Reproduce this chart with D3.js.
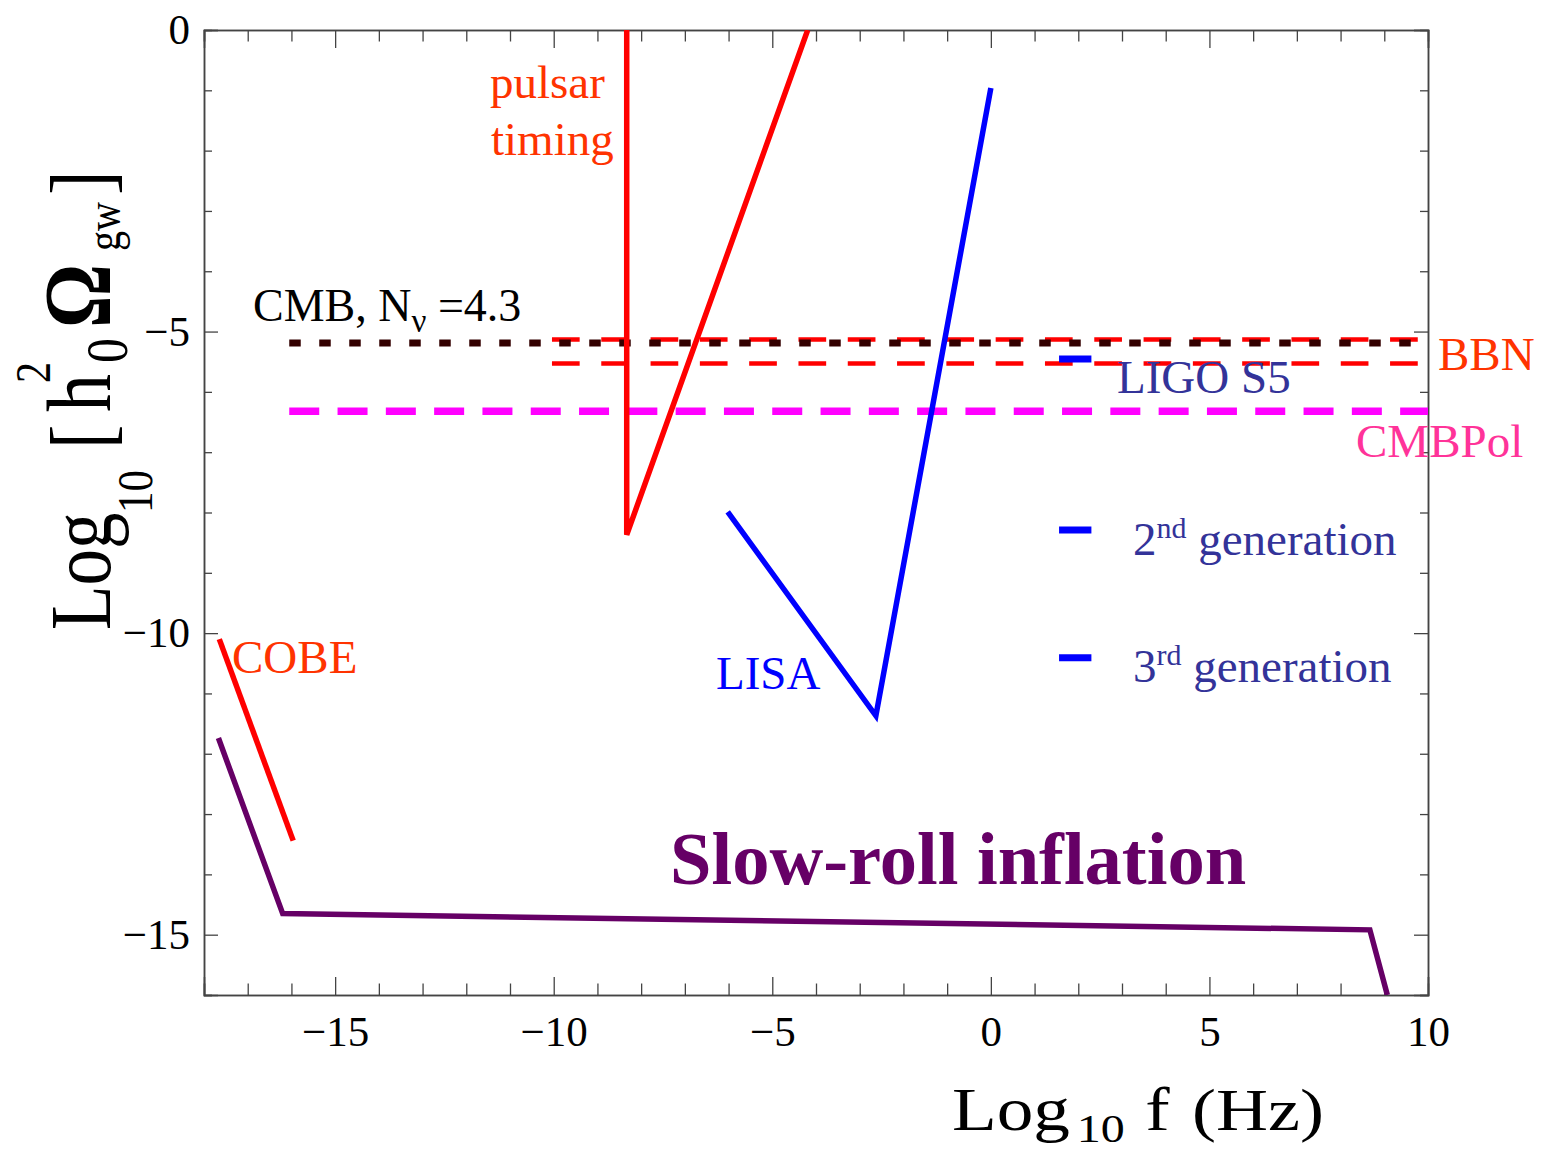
<!DOCTYPE html>
<html><head><meta charset="utf-8">
<script src="https://cdn.jsdelivr.net/npm/d3@7"></script>
<style>body{margin:0;background:#fff}svg{display:block}text{font-family:"Liberation Serif","Times New Roman",serif}</style>
</head><body><svg id="c" width="1547" height="1152"></svg>
<script>
// ---- data (log10 f [Hz], log10 h0^2 Omega_gw) ----
const xDomain = [-18, 10];
const yDomain = [-16, 0];
const xMajorTicks = [-15, -10, -5, 0, 5, 10];
const yMajorTicks = [0, -5, -10, -15];
const pulsarTiming = [[-8.33, 0], [-8.33, -8.37], [-4.19, 0]];
const lisa = [[-6.02, -7.99], [-2.63, -11.37], [0, -0.96]];
const cobe = [[-17.65, -10.1], [-15.96, -13.44]];
const slowRoll = [[-17.67, -11.74], [-16.2, -14.65], [8.67, -14.92], [9.07, -16]];
const cmbNnu = [[-16.05, -5.19], [10, -5.19]];
const bbnUpper = [[-10.04, -5.13], [10, -5.13]];
const bbnLower = [[-10.04, -5.53], [10, -5.53]];
const cmbPol = [[-16.05, -6.32], [10, -6.32]];
const groundX = [1.56, 2.3];
const groundNames = ["LIGO S5", "2nd generation", "3rd generation"];
const groundY = [-5.455, -8.29, -10.41];

const svg = d3.select("#c");
const L = 204, R = 1428, T = 30, B = 995;
const x = d3.scaleLinear().domain(xDomain).range([L, R]);
const y = d3.scaleLinear().domain(yDomain).range([B, T]);

svg.append("defs").append("clipPath").attr("id", "clip")
  .append("rect").attr("x", L).attr("y", T).attr("width", R - L).attr("height", B - T);

// axes
const minorX = d3.range(-18, 11, 1).filter(v => !xMajorTicks.includes(v));
const minorY = d3.range(-16, 1, 1).filter(v => !yMajorTicks.includes(v));
const fmt = d3.format("d");
function styleAxis(g) {
  g.selectAll("path.domain").attr("stroke", "#444").attr("stroke-width", 1.5);
  g.selectAll(".tick line").attr("stroke", "#444").attr("stroke-width", 1.3);
}
const gB = svg.append("g").attr("transform", `translate(0,${B})`)
  .call(d3.axisBottom(x).tickValues(xMajorTicks).tickFormat(fmt).tickSize(-18).tickPadding(0));
gB.selectAll("text").attr("y", 51).attr("dy", 0).attr("font-size", 43)
  .attr("font-family", "Liberation Serif").attr("fill", "#000");
styleAxis(gB);
const gBm = svg.append("g").attr("transform", `translate(0,${B})`)
  .call(d3.axisBottom(x).tickValues(minorX).tickFormat("").tickSize(-11.5));
styleAxis(gBm);
const gT = svg.append("g").attr("transform", `translate(0,${T})`)
  .call(d3.axisTop(x).tickValues(xMajorTicks).tickFormat("").tickSize(-18));
styleAxis(gT);
const gTm = svg.append("g").attr("transform", `translate(0,${T})`)
  .call(d3.axisTop(x).tickValues(minorX).tickFormat("").tickSize(-11.5));
styleAxis(gTm);
const gL = svg.append("g").attr("transform", `translate(${L},0)`)
  .call(d3.axisLeft(y).tickValues(yMajorTicks).tickFormat(fmt).tickSize(-14).tickPadding(14));
gL.selectAll("text").attr("font-size", 43).attr("font-family", "Liberation Serif").attr("fill", "#000");
styleAxis(gL);
const gLm = svg.append("g").attr("transform", `translate(${L},0)`)
  .call(d3.axisLeft(y).tickValues(minorY).tickFormat("").tickSize(-8));
styleAxis(gLm);
const gR = svg.append("g").attr("transform", `translate(${R},0)`)
  .call(d3.axisRight(y).tickValues(yMajorTicks).tickFormat("").tickSize(-14));
styleAxis(gR);
const gRm = svg.append("g").attr("transform", `translate(${R},0)`)
  .call(d3.axisRight(y).tickValues(minorY).tickFormat("").tickSize(-8));
styleAxis(gRm);

// lines
const line = d3.line().x(d => x(d[0])).y(d => y(d[1]));
const plot = svg.append("g").attr("clip-path", "url(#clip)");
function draw(data, color, w, dash) {
  plot.append("path").datum(data).attr("d", line).attr("fill", "none")
    .attr("stroke", color).attr("stroke-width", w)
    .attr("stroke-dasharray", dash || null)
    .attr("stroke-linejoin", "miter").attr("stroke-linecap", "butt");
}
draw(cmbPol, "#ff00ff", 7.5, "30,18.3");
draw(bbnUpper, "#ff0000", 4.5, "27.7,21.6");
draw(bbnLower, "#ff0000", 4.5, "27.7,21.6");
draw(cmbNnu, "#330000", 7, "11.5,18.5");
draw(pulsarTiming, "#ff0000", 5.5);
draw(lisa, "#0000ff", 5.5);
draw(cobe, "#ff0000", 5.5);
draw(slowRoll, "#660066", 5.5);
groundY.forEach(v => draw([[groundX[0], v], [groundX[1], v]], "#0000ff", 7));

// labels
function label(txt, px, py, size, color, bold) {
  const t = svg.append("text").attr("x", px).attr("y", py).attr("font-size", size)
    .attr("fill", color).text(txt);
  if (bold) t.attr("font-weight", "bold");
  return t;
}
label("pulsar", 490, 98, 47, "#ff3300");
label("timing", 491, 155, 47, "#ff3300");
label("BBN", 1438, 370, 47, "#ff3300");
label("CMBPol", 1356, 457, 47, "#ff3399");
label("COBE", 232, 673, 47, "#ff3300");
label("LISA", 716, 689, 47, "#0000ff");
label("Slow-roll inflation", 670, 884, 74.5, "#660066", true);
// CMB, N_nu = 4.3
const cmbT = svg.append("text").attr("x", 253).attr("y", 321).attr("font-size", 46).attr("fill", "#000");
cmbT.append("tspan").text("CMB, N");
cmbT.append("tspan").attr("dy", 11).attr("font-size", 33).text("ν");
cmbT.append("tspan").attr("dy", -11).text(" =4.3");
// ground-based labels
const gLab = [[1117, 393], [1133, 555], [1133, 682]];
groundNames.forEach((n, i) => {
  const t = svg.append("text").attr("x", gLab[i][0]).attr("y", gLab[i][1]).attr("font-size", 47).attr("fill", "#333399");
  if (i === 0) { t.text(n); return; }
  const m = n.match(/^(\d)(\w\w)( .*)$/);
  t.append("tspan").text(m[1]);
  t.append("tspan").attr("dy", -17).attr("font-size", 30).text(m[2]);
  t.append("tspan").attr("dy", 17).text(m[3]);
});

// axis titles: one text element each, pieces as tspans
function ts(t, txt, px, py, size, bold) {
  const s = t.append("tspan").attr("x", px).attr("y", py).attr("font-size", size).text(txt);
  if (bold) s.attr("font-weight", "bold");
}
const xt = svg.append("text").attr("transform", "translate(952,1130) scale(1.2,1)").attr("fill", "#000");
ts(xt, "Log", 0, 0, 61);
ts(xt, "10", 104, 12, 40);
ts(xt, "f", 161, 0, 61);
ts(xt, "(Hz)", 200, 0, 60);

const yt = svg.append("text").attr("transform", "translate(110,630) rotate(-90) scale(1,1.2)").attr("fill", "#000");
ts(yt, "Log", 0, 0, 73);
ts(yt, "10", 117, 35, 43);
ts(yt, "[", 181, 0, 73);
ts(yt, "h", 218, 0, 76);
ts(yt, "2", 247, -50, 42);
ts(yt, "0", 267, 14, 50);
ts(yt, "Ω", 302, 0, 80, true);
ts(yt, "gw", 379, 8, 40);
ts(yt, "]", 435, 0, 73);
</script></body></html>
